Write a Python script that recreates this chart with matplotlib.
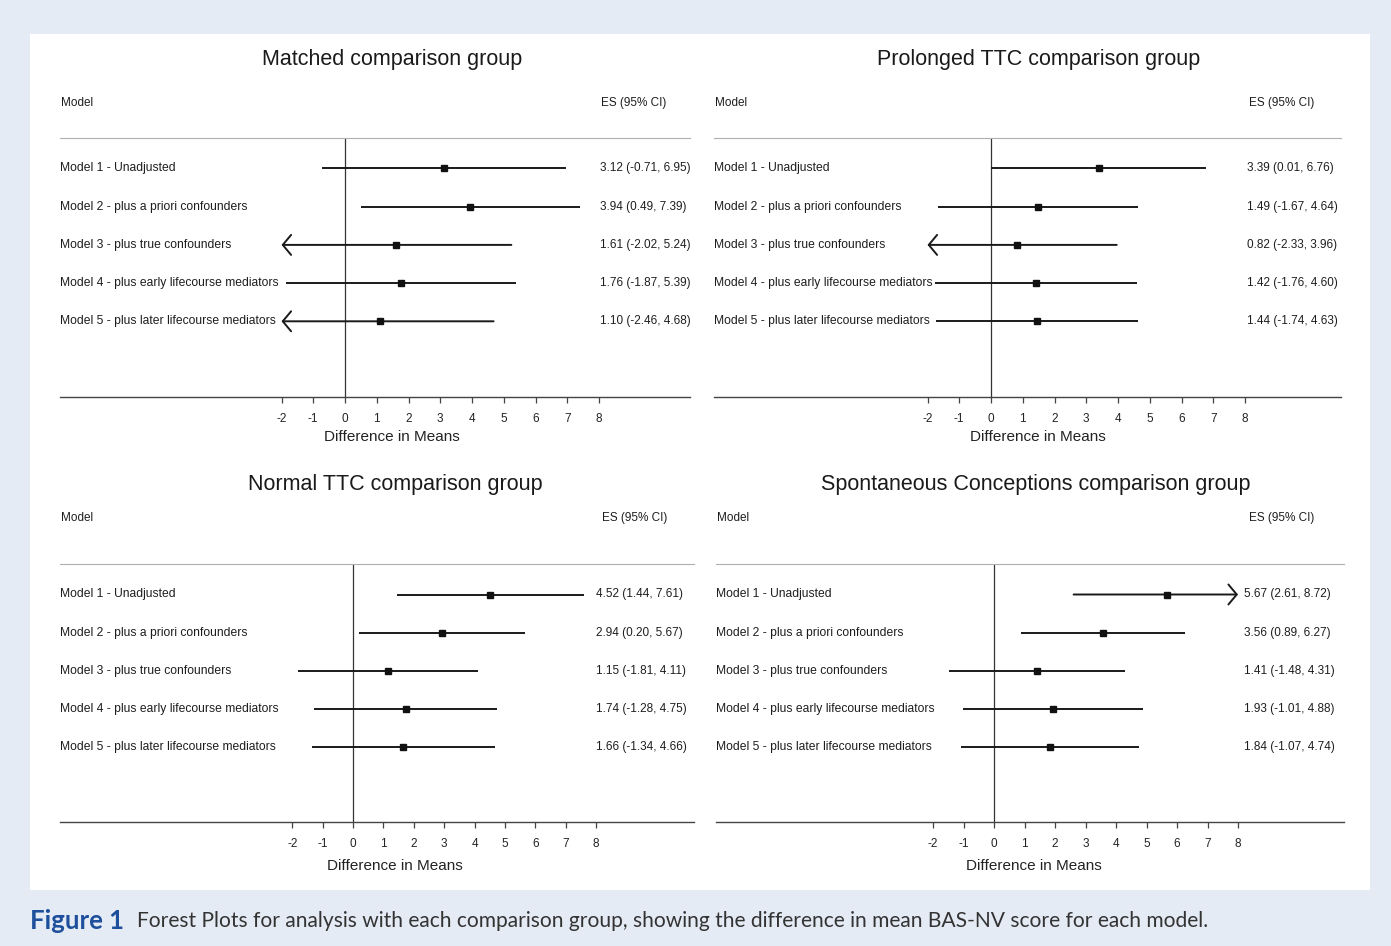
import matplotlib
matplotlib.use("Agg")
import matplotlib.pyplot as plt
from matplotlib.patches import Rectangle
from matplotlib.transforms import blended_transform_factory

# ---------------- data ----------------
titles = ["Matched comparison group", "Prolonged TTC comparison group",
          "Normal TTC comparison group", "Spontaneous Conceptions comparison group"]
models = ["Model 1 - Unadjusted", "Model 2 - plus a priori confounders",
          "Model 3 - plus true confounders", "Model 4 - plus early lifecourse mediators",
          "Model 5 - plus later lifecourse mediators"]

es_matched = [3.12, 3.94, 1.61, 1.76, 1.10]
lo_matched = [-0.71, 0.49, -2.02, -1.87, -2.46]
hi_matched = [6.95, 7.39, 5.24, 5.39, 4.68]

es_prolonged = [3.39, 1.49, 0.82, 1.42, 1.44]
lo_prolonged = [0.01, -1.67, -2.33, -1.76, -1.74]
hi_prolonged = [6.76, 4.64, 3.96, 4.60, 4.63]

es_normal = [4.52, 2.94, 1.15, 1.74, 1.66]
lo_normal = [1.44, 0.20, -1.81, -1.28, -1.34]
hi_normal = [7.61, 5.67, 4.11, 4.75, 4.66]

es_spont = [5.67, 3.56, 1.41, 1.93, 1.84]
lo_spont = [2.61, 0.89, -1.48, -1.01, -1.07]
hi_spont = [8.72, 6.27, 4.31, 4.88, 4.74]

x_ticks = [-2, -1, 0, 1, 2, 3, 4, 5, 6, 7, 8]
x_min_shown, x_max_shown = -2, 8

series = [(es_matched, lo_matched, hi_matched),
          (es_prolonged, lo_prolonged, hi_prolonged),
          (es_normal, lo_normal, hi_normal),
          (es_spont, lo_spont, hi_spont)]

# ---------------- layout (pixels) ----------------
W, H = 1391, 946
geom = [
    dict(l=60, r=690, t=138, b=397, z=345, u=31.75, esx=600, esh=601, tcx=392, ty=60, my=103, xcx=392, xy=437),
    dict(l=714, r=1341, t=138, b=397, z=991, u=31.75, esx=1247, esh=1249, tcx=1039, ty=60, my=103, xcx=1038, xy=437),
    dict(l=60, r=694, t=564, b=822, z=353, u=30.4, esx=596, esh=602, tcx=395, ty=484, my=518, xcx=395, xy=866),
    dict(l=716, r=1344, t=564, b=822, z=994, u=30.5, esx=1244, esh=1249, tcx=1036, ty=484, my=518, xcx=1034, xy=866),
]
ROW_OFF, ROW_STEP = 30.5, 38.2

FONT = ["Liberation Sans", "DejaVu Sans"]
plt.rcParams['font.family'] = FONT

def fx(x):
    return x / W

def fy(y):
    return 1 - y / H

fig = plt.figure(figsize=(W / 100, H / 100), dpi=100)
fig.patch.set_facecolor("#e5ebf5")
fig.add_artist(Rectangle((fx(30), fy(890)), (1370 - 30) / W, (890 - 34) / H,
                         transform=fig.transFigure, facecolor="white",
                         edgecolor="none", zorder=-5))

ARROW = dict(arrowstyle="->,head_length=0.6,head_width=0.72", color="#1a1a1a",
             lw=1.4, mutation_scale=10, shrinkA=0, shrinkB=0)

for g, title, (es, lo, hi) in zip(geom, titles, series):
    ax = fig.add_axes([fx(g['l']), fy(g['b']), (g['r'] - g['l']) / W, (g['b'] - g['t']) / H])
    ax.patch.set_visible(False)
    ax.set_xlim((g['l'] - g['z']) / g['u'], (g['r'] - g['z']) / g['u'])
    y_bottom = 1 + (g['b'] - g['t'] - ROW_OFF) / ROW_STEP
    y_top = 1 - ROW_OFF / ROW_STEP
    ax.set_ylim(y_bottom, y_top)

    for s in ("left", "right"):
        ax.spines[s].set_visible(False)
    ax.spines["top"].set_color("#b0b0b0")
    ax.spines["top"].set_linewidth(0.8)
    ax.spines["bottom"].set_color("#444444")
    ax.spines["bottom"].set_linewidth(1.0)
    ax.set_yticks([])
    ax.set_xticks(x_ticks)
    ax.set_xticklabels([str(t) for t in x_ticks])
    ax.tick_params(axis="x", direction="out", length=4.5, width=0.9, color="#444444",
                   labelsize=8.5, labelcolor="#222222", pad=7)

    ax.axvline(0, color="#333333", lw=0.9, zorder=1)

    rows = list(range(1, len(models) + 1))
    for yv, e, a, b in zip(rows, es, lo, hi):
        a_c = max(a, x_min_shown)
        b_c = min(b, x_max_shown)
        if a < x_min_shown:
            ax.annotate("", xy=(a_c, yv), xytext=(b_c, yv), arrowprops=ARROW)
        elif b > x_max_shown:
            ax.annotate("", xy=(b_c, yv), xytext=(a_c, yv), arrowprops=ARROW)
        else:
            ax.plot([a_c, b_c], [yv, yv], color="#1a1a1a", lw=1.4,
                    solid_capstyle="butt", zorder=2)
    ax.plot(es, rows, "s", color="#111111", ms=4.3, zorder=3)

    tr = blended_transform_factory(ax.transAxes, ax.transData)
    esx_ax = (g['esx'] - g['l']) / (g['r'] - g['l'])
    for yv, m, e, a, b in zip(rows, models, es, lo, hi):
        ax.text(0, yv, m, transform=tr, ha="left", va="center", fontsize=8.7,
                color="#1e1e1e", clip_on=False)
        ax.text(esx_ax, yv, f"{e:.2f} ({a:.2f}, {b:.2f})", transform=tr, ha="left",
                va="center", fontsize=8.5, color="#1e1e1e", clip_on=False)

    fig.text(fx(g['tcx']), fy(g['ty']), title, ha="center", va="center", fontsize=15.5,
             color="#1a1a1a")
    fig.text(fx(g['l'] + 1), fy(g['my']), "Model", ha="left", va="center", fontsize=8.5,
             color="#1e1e1e")
    fig.text(fx(g['esh']), fy(g['my']), "ES (95% CI)", ha="left", va="center", fontsize=8.5,
             color="#1e1e1e")
    fig.text(fx(g['xcx']), fy(g['xy']), "Difference in Means", ha="center", va="center",
             fontsize=11, color="#222222")

# caption
renderer = fig.canvas.get_renderer()
cap1 = fig.text(fx(30), fy(921), "Figure 1", ha="left", va="center", fontsize=18.5,
                fontweight="bold", color="#1d4f9c", family=["Lato", "DejaVu Sans"])
bb = cap1.get_window_extent(renderer=renderer)
fig.text((bb.x1 + 13) / W, fy(921),
         "Forest Plots for analysis with each comparison group, showing the difference in mean BAS-NV score for each model.",
         ha="left", va="center", fontsize=15.1, color="#333333", family=["Lato", "DejaVu Sans"])

fig.savefig("out.png", dpi=100, facecolor=fig.get_facecolor())
